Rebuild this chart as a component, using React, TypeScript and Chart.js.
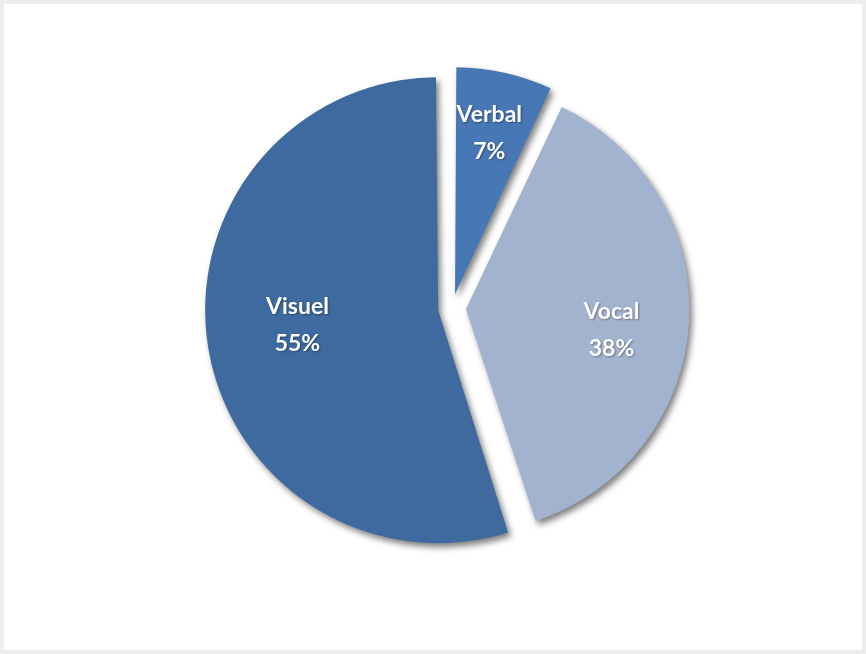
import React, { useEffect, useRef } from "react";
import { Chart, registerables } from "chart.js";

Chart.register(...registerables);

const categories = ["Verbal", "Vocal", "Visuel"];
const values = [7, 38, 55];
const valueLabels = ["7%", "38%", "55%"];

const sliceColors = ["#4777b4", "#a2b3d0", "#3e6aa0"];
const labelRadiusFraction = [0.82, 0.735, 0.71];
const labelAngleShiftDeg = [-0.6, 4.2, 2.7];

const labelPlugin = {
  id: "sliceLabels",
  beforeDatasetsDraw(chart: any) {
    const ctx = chart.ctx;
    ctx.save();
    ctx.shadowColor = "rgba(0,0,0,0.5)";
    ctx.shadowBlur = 6;
    ctx.shadowOffsetX = 3;
    ctx.shadowOffsetY = 4;
  },
  afterDatasetsDraw(chart: any) {
    const ctx = chart.ctx;
    ctx.restore();
    const meta = chart.getDatasetMeta(0);
    ctx.save();
    ctx.font = 'bold 23px Lato, "Open Sans", sans-serif';
    ctx.fillStyle = "#ffffff";
    ctx.textAlign = "center";
    ctx.textBaseline = "middle";
    ctx.shadowColor = "rgba(0,0,0,0.35)";
    ctx.shadowBlur = 2;
    ctx.shadowOffsetX = 1;
    ctx.shadowOffsetY = 1;
    meta.data.forEach((arc: any, i: number) => {
      const p = arc.getProps(["x", "y", "startAngle", "endAngle", "outerRadius"], true);
      const mid = (p.startAngle + p.endAngle) / 2 + (labelAngleShiftDeg[i] * Math.PI) / 180;
      const r = p.outerRadius * labelRadiusFraction[i];
      const x = p.x + Math.cos(mid) * r;
      const y = p.y + Math.sin(mid) * r;
      ctx.fillText(categories[i], x, y - 18);
      ctx.fillText(valueLabels[i], x, y + 19);
    });
    ctx.restore();
  },
};

export default function App() {
  const canvasRef = useRef<HTMLCanvasElement | null>(null);

  useEffect(() => {
    if (!canvasRef.current) return;
    const chart = new Chart(canvasRef.current, {
      type: "pie",
      data: {
        labels: categories,
        datasets: [
          {
            data: values,
            backgroundColor: sliceColors,
            borderWidth: 0,
            offset: 56,
          },
        ],
      },
      options: {
        animation: false,
        responsive: false,
        radius: 219,
        layout: { padding: { left: 38, right: 0, top: 0, bottom: 38 } },
        plugins: {
          legend: { display: false },
          tooltip: { enabled: false },
        },
      },
      plugins: [labelPlugin],
    });
    return () => chart.destroy();
  }, []);

  return (
    <div
      style={{
        position: "absolute",
        left: 0,
        top: 0,
        width: 866,
        height: 654,
        boxSizing: "border-box",
        border: "4px solid #ececec",
        background: "#ffffff",
        overflow: "hidden",
      }}
    >
      <canvas
        ref={canvasRef}
        width={858}
        height={646}
        style={{ display: "block", width: 858, height: 646 }}
      />
    </div>
  );
}
